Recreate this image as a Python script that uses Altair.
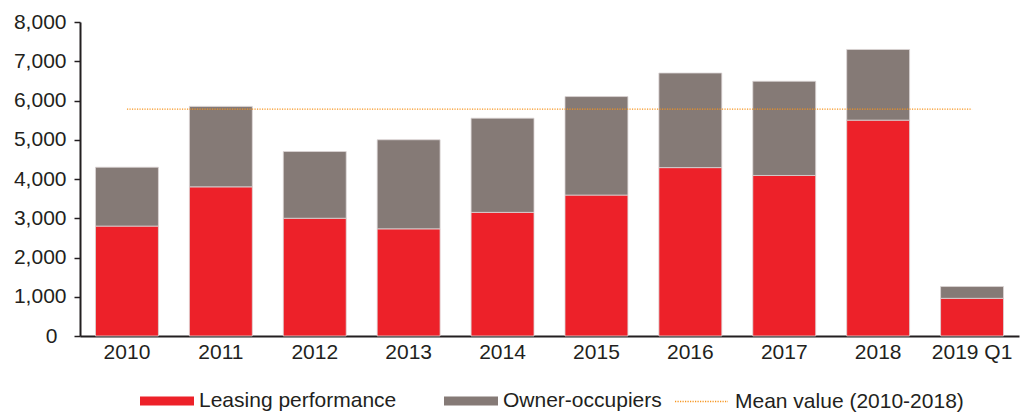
import altair as alt
import pandas as pd

periods = ["2010", "2011", "2012", "2013", "2014", "2015", "2016", "2017", "2018", "2019 Q1"]
leasing = [2800, 3800, 3000, 2730, 3150, 3590, 4290, 4090, 5500, 960]
owner = [1500, 2050, 1700, 2270, 2400, 2510, 2410, 2400, 1800, 300]
series_names = ["Leasing performance", "Owner-occupiers"]
series_colors = ["#ED2129", "#857A76"]
mean_label = "Mean value (2010-2018)"
mean_value = 5780
mean_span = ["2010", "2019 Q1"]
y_ticks = [0, 1000, 2000, 3000, 4000, 5000, 6000, 7000, 8000]

FONT = "Liberation Sans, Arial, Helvetica, sans-serif"
TXT = "#231F20"

rows = []
for p, l, o in zip(periods, leasing, owner):
    rows.append({"period": p, "series": series_names[0], "value": l, "ord": 0})
    rows.append({"period": p, "series": series_names[1], "value": o, "ord": 1})
bars_df = pd.DataFrame(rows)

mean_df = pd.DataFrame({
    "period": mean_span,
    "value": [mean_value] * len(mean_span),
    "series": [mean_label] * len(mean_span),
})

x_axis = alt.Axis(title=None, labelAngle=0, ticks=False, domainColor=TXT, domainWidth=2,
                  labelFontSize=21, labelColor=TXT, labelFont=FONT, labelPadding=5)
y_axis = alt.Axis(title=None, values=y_ticks, grid=False, labelOverlap=False,
                  format=",.0f",
                  domainColor=TXT, domainWidth=2, tickColor=TXT, tickWidth=1.5,
                  tickSize=6,
                  labelPadding={"condition": {"test": "datum.value === 0", "value": 17}, "value": 8},
                  labelFontSize=21, labelColor=TXT, labelFont=FONT)
x_scale = alt.Scale(paddingInner=0.33, paddingOuter=0.165)
y_scale = alt.Scale(domain=[0, 8000], nice=False)

bars = alt.Chart(bars_df).mark_bar(stroke="#DCD6D6", strokeWidth=0.8).encode(
    x=alt.X("period:N", sort=periods, scale=x_scale, axis=x_axis),
    y=alt.Y("value:Q", stack="zero", scale=y_scale, axis=y_axis),
    color=alt.Color(
        "series:N",
        scale=alt.Scale(domain=series_names, range=series_colors),
        legend=alt.Legend(
            title=None, orient="none", direction="horizontal",
            legendX=60, legendY=352, padding=0,
            symbolType="M-1,-0.17L1,-0.17L1,0.17L-1,0.17Z", symbolSize=2916,
            symbolStrokeWidth=0, labelFontSize=21, labelFont=FONT, labelColor=TXT,
            labelOffset=5, columnPadding=47, labelLimit=0,
        ),
    ),
    order=alt.Order("ord:Q", sort="ascending"),
)

mean_line = alt.Chart(mean_df).mark_line(strokeWidth=1.3, strokeDash=[1.2, 1.3], color="#F7941D").encode(
    x=alt.X("period:N", sort=periods, scale=x_scale, axis=x_axis),
    y=alt.Y("value:Q", scale=y_scale, axis=y_axis),
    color=alt.Color(
        "series:N",
        scale=alt.Scale(domain=[mean_label], range=["#F7941D"]),
        legend=alt.Legend(
            title=None, orient="none", direction="horizontal",
            legendX=594, legendY=352, padding=0,
            symbolType="stroke", symbolSize=2809, symbolStrokeWidth=1.3,
            symbolDash=[1.2, 1.3], labelFontSize=21, labelFont=FONT, labelColor=TXT,
            labelOffset=6, labelLimit=0,
        ),
    ),
)

chart = alt.layer(bars, mean_line).resolve_scale(color="independent").properties(
    width=939, height=314,
    padding={"left": 5, "top": 3, "right": 5, "bottom": 0},
).configure_view(stroke=None)

chart.save("out.html", embed_options={"renderer": "svg", "actions": False})
